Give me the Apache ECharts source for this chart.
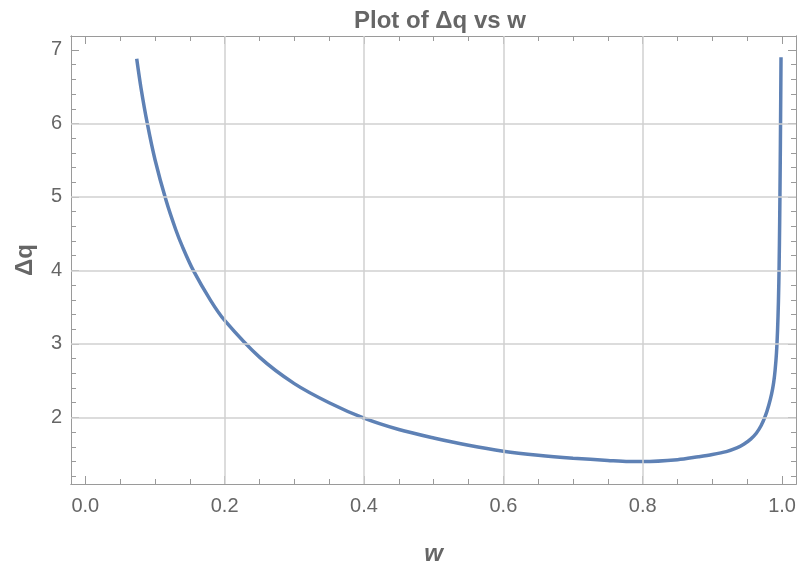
<!DOCTYPE html>
<html>
<head>
<meta charset="utf-8">
<script src="https://cdn.jsdelivr.net/npm/echarts@6/dist/echarts.min.js"></script>
<style>
html,body{margin:0;padding:0;background:#fff;}
#chart{width:797px;height:563px;}
</style>
</head>
<body>
<div id="chart"></div>
<script>
// Data
const W  = [0.0738, 0.080, 0.089, 0.100, 0.116, 0.130, 0.140, 0.155, 0.180, 0.200, 0.250, 0.300, 0.350, 0.400, 0.450, 0.500, 0.550, 0.600, 0.650, 0.700, 0.750, 0.780, 0.800, 0.850, 0.880, 0.900, 0.920, 0.935, 0.945, 0.955, 0.963, 0.970, 0.976, 0.981, 0.985, 0.988, 0.990, 0.992, 0.9935, 0.9948, 0.9958, 0.9966, 0.9973, 0.9979, 0.9985];
const DQ = [6.88, 6.48, 6.00, 5.51, 4.95, 4.55, 4.31, 4.00, 3.59, 3.32, 2.82, 2.46, 2.20, 1.99, 1.835, 1.72, 1.62, 1.54, 1.485, 1.445, 1.415, 1.40, 1.40, 1.425, 1.465, 1.495, 1.535, 1.585, 1.635, 1.705, 1.785, 1.89, 2.02, 2.17, 2.32, 2.48, 2.64, 2.88, 3.18, 3.58, 4.08, 4.68, 5.38, 6.10, 6.90];

const XTICKS = [0.0, 0.2, 0.4, 0.6, 0.8, 1.0];
const XMINOR = [0.05, 0.1, 0.15, 0.25, 0.3, 0.35, 0.45, 0.5, 0.55, 0.65, 0.7, 0.75, 0.85, 0.9, 0.95];
const YTICKS = [2, 3, 4, 5, 6, 7];
const YMINOR = [1.2, 1.4, 1.6, 1.8, 2.2, 2.4, 2.6, 2.8, 3.2, 3.4, 3.6, 3.8, 4.2, 4.4, 4.6, 4.8, 5.2, 5.4, 5.6, 5.8, 6.2, 6.4, 6.6, 6.8];
const XGRID = [0.2, 0.4, 0.6, 0.8];
const YGRID = [2, 3, 4, 5, 6];

const TITLE = 'Plot of Δq vs w';
const XNAME = 'w';
const YNAME = 'Δq';

const XMIN = -0.0205, XMAX = 1.02;
const YMIN = 1.094, YMAX = 7.19;

const FONT = '"Liberation Sans", Arial, Helvetica, sans-serif';
const TEXT = '#666666';
const FRAME = '#9a9a9a';
const GRIDC = '#d0d0d0';
const CURVE = '#5E81B5';

function xAx(pos, ticks, len, labels, extra) {
  return Object.assign({
    type: 'value', position: pos, min: XMIN, max: XMAX,
    axisLine: {show: true, onZero: false, lineStyle: {color: FRAME, width: 1}},
    axisTick: {show: true, inside: true, length: len, customValues: ticks, lineStyle: {color: FRAME, width: 1}},
    axisLabel: labels ? {show: true, customValues: ticks, formatter: v => Number(v).toFixed(1), color: TEXT, fontSize: 20, fontFamily: FONT, margin: 12} : {show: false},
    splitLine: {show: false}
  }, extra || {});
}
function yAx(pos, ticks, len, labels, extra) {
  return Object.assign({
    type: 'value', position: pos, min: YMIN, max: YMAX,
    axisLine: {show: true, onZero: false, lineStyle: {color: FRAME, width: 1}},
    axisTick: {show: true, inside: true, length: len, customValues: ticks, lineStyle: {color: FRAME, width: 1}},
    axisLabel: labels ? {show: true, customValues: ticks, formatter: v => String(Math.round(v)), color: TEXT, fontSize: 20, fontFamily: FONT, margin: 9} : {show: false},
    splitLine: {show: false}
  }, extra || {});
}

const chart = echarts.init(document.getElementById('chart'), null, {renderer: 'canvas'});
chart.setOption({
  animation: false,
  backgroundColor: '#ffffff',
  title: {
    text: TITLE, left: 435, top: 4, textAlign: 'center',
    textStyle: {color: TEXT, fontSize: 24, fontWeight: 'bold', fontFamily: FONT}
  },
  grid: {left: 71, top: 36, width: 725, height: 448, containLabel: false, outerBoundsMode: 'none'},
  xAxis: [
    xAx('bottom', XTICKS, 8, true, {
      name: XNAME, nameLocation: 'middle', nameGap: 58,
      nameTextStyle: {color: TEXT, fontSize: 24, fontWeight: 'bold', fontStyle: 'italic', fontFamily: FONT}
    }),
    xAx('bottom', XMINOR, 5, false),
    xAx('top', XTICKS, 8, false),
    xAx('top', XMINOR, 5, false)
  ],
  yAxis: [
    yAx('left', YTICKS, 8, true, {
      name: YNAME, nameLocation: 'middle', nameGap: 34,
      nameTextStyle: {color: TEXT, fontSize: 24, fontWeight: 'bold', fontFamily: FONT}
    }),
    yAx('left', YMINOR, 5, false),
    yAx('right', YTICKS, 8, false),
    yAx('right', YMINOR, 5, false)
  ],
  series: [
    {
      type: 'line', xAxisIndex: 0, yAxisIndex: 0, data: [], z: 1, silent: true,
      markLine: {
        silent: true, symbol: ['none', 'none'], label: {show: false},
        lineStyle: {color: GRIDC, type: 'solid', width: 1.5},
        emphasis: {disabled: true},
        data: XGRID.map(v => ({xAxis: v})).concat(YGRID.map(v => ({yAxis: v})))
      }
    },
    {
      type: 'line', xAxisIndex: 0, yAxisIndex: 0, z: 3,
      data: W.map((w, i) => [w, DQ[i]]),
      showSymbol: false, symbol: 'none',
      smooth: 0.3,
      lineStyle: {color: CURVE, width: 3.5},
      silent: true
    }
  ]
});
</script>
</body>
</html>
